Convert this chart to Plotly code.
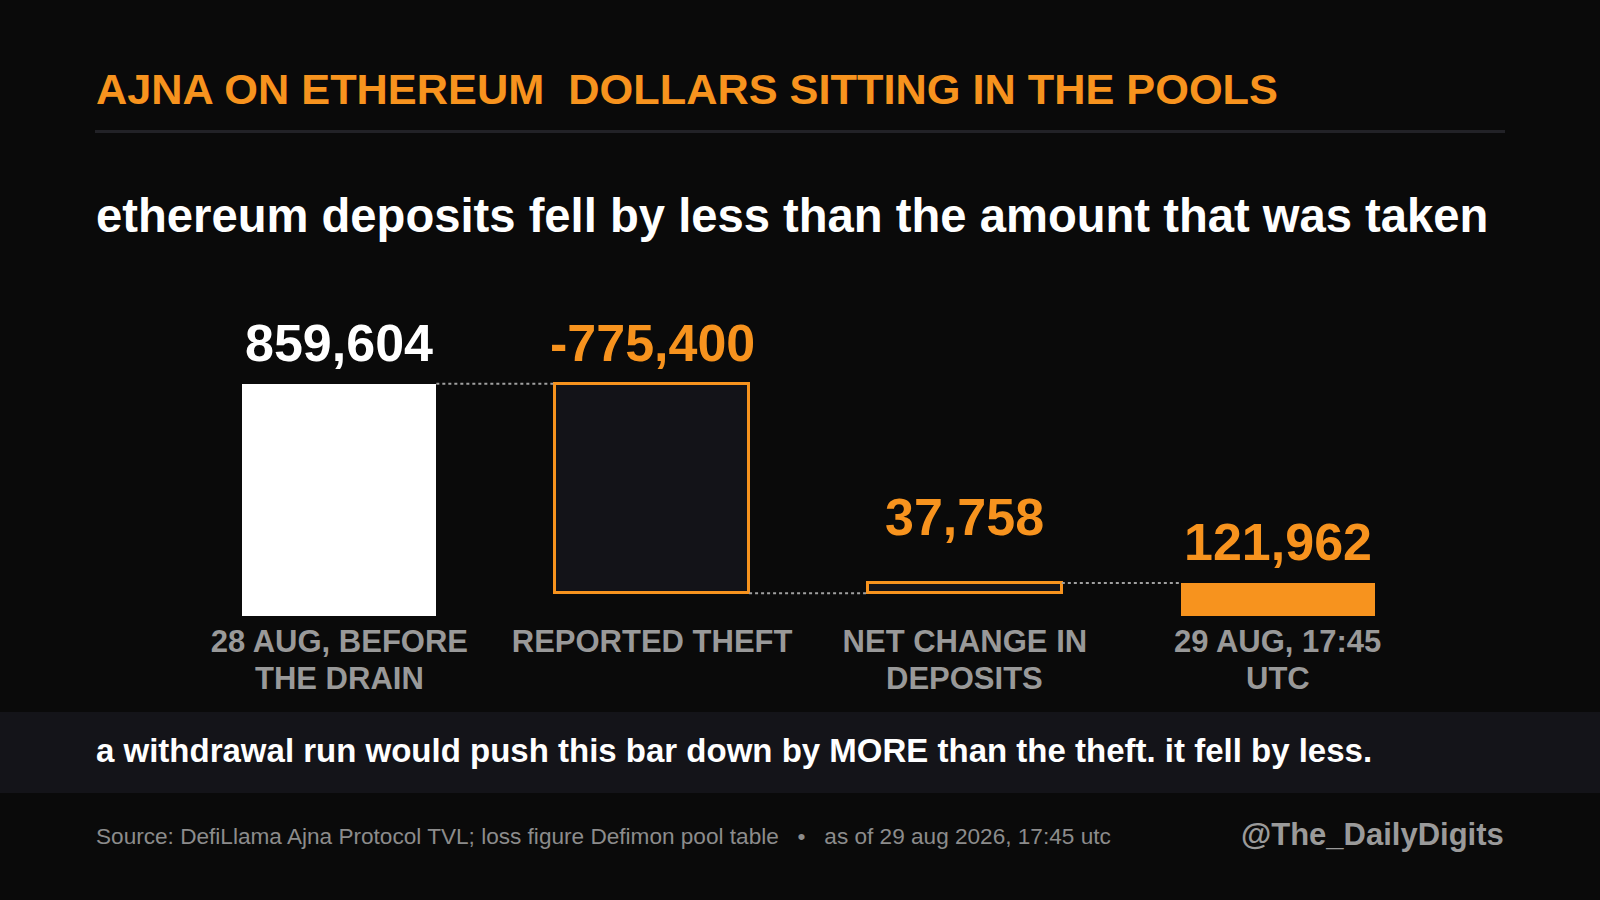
import plotly.graph_objects as go

# chart data
categories = ["28 AUG, BEFORE<br>THE DRAIN", "REPORTED THEFT",
              "NET CHANGE IN<br>DEPOSITS", "29 AUG, 17:45<br>UTC"]
measures = ["absolute", "relative", "relative", "total"]
values = [859604, -775400, 37758, 121962]
value_labels = ["859,604", "-775,400", "37,758", "121,962"]

W, H = 1600, 900
ORANGE = "#F7931E"
BG = "#0A0A0A"
GREY = "#999999"
FONT = "Liberation Sans, Arial, sans-serif"


def px(x):
    return x / W


def py(y):
    return 1 - y / H


# bases for the floating bars, built from the measures
bases, heights, ends = [], [], []
running = 0
for m, v in zip(measures, values):
    if m == "absolute":
        bases.append(0)
        heights.append(v)
        running = v
    elif m == "relative":
        bases.append(running)
        heights.append(v)
        running += v
    else:
        bases.append(0)
        heights.append(running)
    ends.append(running)

xs = list(range(len(categories)))
bar_w = 0.62

fig = go.Figure()

fig.add_trace(go.Bar(
    x=xs, y=heights, base=bases, width=bar_w,
    marker=dict(
        color=["#FFFFFF", "#131318", "#131318", ORANGE],
        line=dict(color=["#FFFFFF", ORANGE, ORANGE, ORANGE], width=[0, 3, 3, 0]),
    ),
    hoverinfo="skip", showlegend=False,
))

# dotted connectors between bars
for i in range(len(xs) - 1):
    fig.add_trace(go.Scatter(
        x=[xs[i] + bar_w / 2, xs[i + 1] - bar_w / 2],
        y=[ends[i], ends[i]],
        mode="lines",
        line=dict(color="#A0A0A0", width=2, dash="3px,3px"),
        hoverinfo="skip", showlegend=False,
    ))

label_colors = ["#FFFFFF", ORANGE, ORANGE, ORANGE]
label_shift = [10, 10, 35, 10]
annotations = []
for i, lab in enumerate(value_labels):
    top = max(bases[i], bases[i] + heights[i])
    annotations.append(dict(
        x=xs[i], y=top, xref="x", yref="y", text=lab, showarrow=False,
        yanchor="bottom", yshift=label_shift[i],
        font=dict(family=FONT, size=52, color=label_colors[i], weight="bold"),
    ))

# first line of each category goes on the axis, the second line sits just below it
first_lines = [c.split("<br>")[0] for c in categories]
for i, c in enumerate(categories):
    parts = c.split("<br>")
    if len(parts) > 1:
        annotations.append(dict(
            x=xs[i], y=py(678), xref="x", yref="paper", yanchor="middle",
            text=parts[1], showarrow=False,
            font=dict(family=FONT, size=31, color=GREY, weight="bold"),
        ))

annotations += [
    dict(x=px(94), y=py(89), xref="paper", yref="paper", xanchor="left", yanchor="middle",
         text="AJNA ON ETHEREUM\u00a0\u00a0DOLLARS SITTING IN THE POOLS", showarrow=False,
         font=dict(family=FONT, size=43.3, color=ORANGE, weight="bold")),
    dict(x=px(94), y=py(215), xref="paper", yref="paper", xanchor="left", yanchor="middle",
         text="ethereum deposits fell by less than the amount that was taken", showarrow=False,
         font=dict(family=FONT, size=47.2, color="#FFFFFF", weight="bold")),
    dict(x=px(94), y=py(750), xref="paper", yref="paper", xanchor="left", yanchor="middle",
         text="a withdrawal run would push this bar down by MORE than the theft. it fell by less.",
         showarrow=False,
         font=dict(family=FONT, size=33, color="#FFFFFF", weight="bold")),
    dict(x=px(94), y=py(836), xref="paper", yref="paper", xanchor="left", yanchor="middle",
         text="Source: DefiLlama Ajna Protocol TVL; loss figure Defimon pool table"
              "\u00a0\u00a0\u00a0•\u00a0\u00a0\u00a0as of 29 aug 2026, 17:45 utc",
         showarrow=False,
         font=dict(family=FONT, size=22.6, color="#8C8C8C")),
    dict(x=px(1506), y=py(834), xref="paper", yref="paper", xanchor="right", yanchor="middle",
         text="@The_DailyDigits", showarrow=False,
         font=dict(family=FONT, size=31, color="#9A9A9A", weight="bold")),
]

shapes = [
    dict(type="line", xref="paper", yref="paper", x0=px(95), x1=px(1505),
         y0=py(131.5), y1=py(131.5), line=dict(color="#222227", width=3)),
    dict(type="rect", xref="paper", yref="paper", x0=0, x1=1, y0=py(793), y1=py(712),
         fillcolor="#141419", line=dict(width=0), layer="below"),
]

fig.update_layout(
    width=W, height=H,
    margin=dict(l=0, r=0, t=0, b=0),
    paper_bgcolor=BG, plot_bgcolor=BG,
    bargap=0,
    xaxis=dict(
        domain=[px(183), px(1434)], range=[-0.5, 3.5],
        tickvals=xs, ticktext=first_lines,
        showgrid=False, zeroline=False, showline=False, ticks="",
        ticklabelstandoff=4,
        tickfont=dict(family=FONT, size=31, color=GREY, weight="bold"),
    ),
    yaxis=dict(domain=[py(616), py(300)], range=[0, 1170000], visible=False),
    annotations=annotations,
    shapes=shapes,
)

fig.write_html("out.html", config={"displayModeBar": False},
               post_script="document.body.style.margin='0';")
